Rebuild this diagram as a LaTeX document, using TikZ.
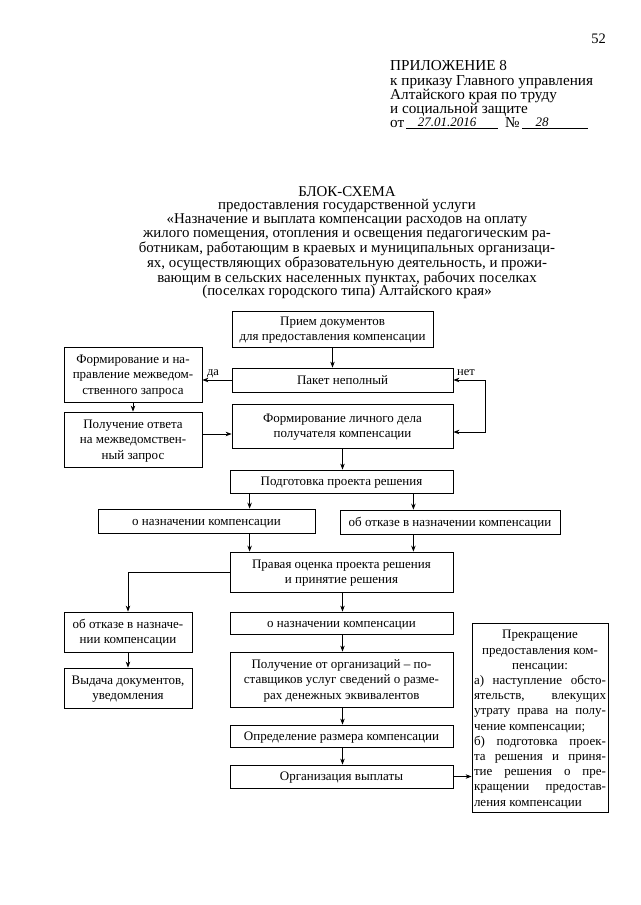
\documentclass[tikz,border=0pt]{standalone}
\usepackage{fontspec}
\setmainfont{Liberation Serif}
\usetikzlibrary{arrows.meta}
\newcommand\bx[6]{\node[box, minimum width={#4-#2}, minimum height={#5-#3}] (#1) at ({(#2+#4)/2},{(#3+#5)/2}) {\raisebox{-1pt}[\height][\depth]{\begin{tabular}{@{}c@{}}#6\end{tabular}}};}
\newcommand\myS[1]{\makebox[132pt][s]{#1}}
\newcommand\myC[1]{\makebox[132pt][c]{#1}}
\newcommand\myL[1]{\makebox[132pt][l]{#1}}
\begin{document}
\begin{tikzpicture}[x=1pt,y=-1pt,
  box/.style={draw, line width=0.8pt, inner sep=1pt, font=\fontsize{13}{15.5}\selectfont},
  arr/.style={-{Stealth[length=6pt,width=4.5pt]}, line width=0.8pt},
  harr/.style={{Stealth[length=6pt,width=4.5pt]}-{Stealth[length=6pt,width=4.5pt]}, line width=0.8pt},
  hdr/.style={anchor=base west, inner sep=0pt, font=\fontsize{15.2}{14}\selectfont},
  hand/.style={anchor=base, inner sep=0pt, font=\fontsize{13}{13}\selectfont\itshape},
  lbl/.style={inner sep=0pt, font=\fontsize{12.5}{13}\selectfont}]
\useasboundingbox[fill=white] (0,0) rectangle (640,905);

% header
\node[anchor=base east, inner sep=0pt, font=\fontsize{14.5}{14}\selectfont] (pg) at (606,43) {52};
\node[hdr] (h1) at (390,70) {ПРИЛОЖЕНИЕ 8};
\node[hdr] (h2) at (390,85) {к приказу Главного управления};
\node[hdr] (h3) at (390,99) {Алтайского края по труду};
\node[hdr] (h4) at (390,113) {и социальной защите};
\node[hdr] (h5) at (390,127) {от};
\node[hdr] (h6) at (505,127) {№};
\draw[line width=0.6pt] (406,128) -- (498,128);
\draw[line width=0.6pt] (522,128) -- (588,128);
\node[hand] (d1) at (447,126) {27.01.2016};
\node[hand] (d2) at (542,126) {28};

% title
\node[anchor=north, inner sep=0pt, align=center, font=\fontsize{14.9}{13.8}\selectfont] (title) at (347,186) {БЛОК-СХЕМА\\
предоставления государственной услуги\\
«Назначение и выплата компенсации расходов на оплату\\
жилого помещения, отопления и освещения педагогическим ра-\\
ботникам, работающим в краевых и муниципальных организаци-\\
ях, осуществляющих образовательную деятельность, и прожи-\\
вающим в сельских населенных пунктах, рабочих поселках\\
(поселках городского типа) Алтайского края»};

% boxes
\bx{A}{232}{311}{433}{347}{Прием документов\\для предоставления компенсации}
\bx{B}{232}{368}{453}{392}{Пакет неполный}
\bx{C}{64}{347}{202}{402}{Формирование и на-\\правление межведом-\\ственного запроса}
\bx{D}{232}{404}{453}{448}{Формирование личного дела\\получателя компенсации}
\bx{E}{64}{412}{202}{467}{Получение ответа\\на межведомствен-\\ный запрос}
\bx{F}{230}{470}{453}{493}{Подготовка проекта решения}
\bx{G}{98}{509}{315}{533}{о назначении компенсации}
\bx{H}{340}{510}{560}{534}{об отказе в назначении компенсации}
\bx{I}{230}{552}{453}{592}{Правая оценка проекта решения\\и принятие решения}
\bx{J}{64}{612}{192}{652}{об отказе в назначе-\\нии компенсации}
\bx{K}{64}{668}{192}{708}{Выдача документов,\\уведомления}
\bx{L}{230}{612}{453}{634}{о назначении компенсации}
\bx{M}{230}{652}{453}{707}{Получение от организаций – по-\\ставщиков услуг сведений о разме-\\рах денежных эквивалентов}
\bx{N}{230}{725}{453}{747}{Определение размера компенсации}
\bx{O}{230}{765}{453}{788}{Организация выплаты}
\node[draw, line width=0.8pt, inner sep=0pt, minimum width=136, minimum height=189,
  font=\fontsize{13}{15.2}\selectfont] (P) at (540,717.5) {\raisebox{-2pt}[\height][\depth]{\begin{tabular}{@{}l@{}}\myC{Прекращение}\\
\myC{предоставления ком-}\\
\myC{пенсации:}\\
\myS{а) наступление обсто-}\\
\myS{ятельств, влекущих}\\
\myS{утрату права на полу-}\\
\myL{чение компенсации;}\\
\myS{б) подготовка проек-}\\
\myS{та решения и приня-}\\
\myS{тие решения о пре-}\\
\myS{кращении предостав-}\\
\myL{ления компенсации}\end{tabular}}};

% connectors
\draw[arr] (A.south) -- (A.south |- B.north);
\draw[arr] (B.west) -- (B.west -| C.east);
\node[lbl, anchor=base] (da) at (213,375) {да};
\coordinate (loop) at (485,380);
\draw[harr] (B.east) -- (loop) |- ([yshift=-6pt]D.east);
\node[lbl, anchor=base] (net) at (466,375) {нет};
\draw[arr] (C.south) -- (E.north);
\draw[arr] ([yshift=-8pt]D.west -| E.east) -- ([yshift=-8pt]D.west);
\draw[arr] (D.south) -- (D.south |- F.north);
\draw[arr] ([xshift=20pt]F.south west) -- ([xshift=20pt]F.south west |- G.north);
\draw[arr] ([xshift=-40pt]F.south east) -- ([xshift=-40pt]F.south east |- H.north);
\draw[arr] ([xshift=20pt]F.south west |- G.south) -- ([xshift=20pt]I.north west);
\draw[arr] ([xshift=-40pt]F.south east |- H.south) -- ([xshift=-40pt]I.north east);
\draw[arr] (I.west) -| (J.north);
\draw[arr] (I.south -| D.south) -- (D.south |- L.north);
\draw[arr] (J.south) -- (K.north);
\draw[arr] (L.south -| D.south) -- (D.south |- M.north);
\draw[arr] (M.south -| D.south) -- (D.south |- N.north);
\draw[arr] (N.south -| D.south) -- (D.south |- O.north);
\draw[arr] (O.east) -- (O.east -| P.west);
\end{tikzpicture}
\end{document}
